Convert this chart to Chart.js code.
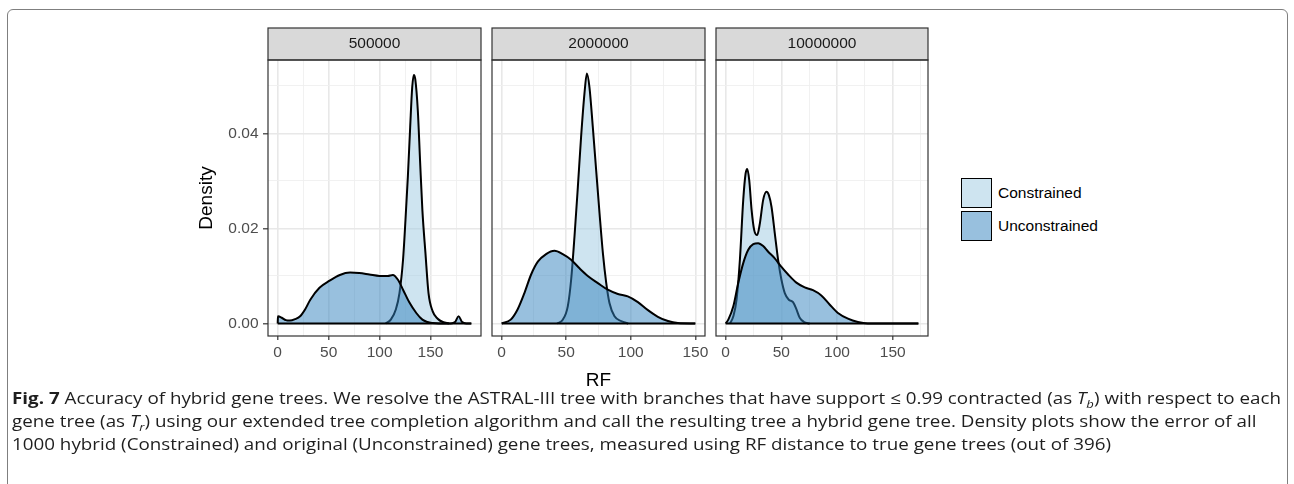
<!DOCTYPE html>
<html>
<head>
<meta charset="utf-8">
<script src="https://cdn.jsdelivr.net/npm/chart.js@4.4.1/dist/chart.umd.min.js"></script>
<style>
  html, body { margin: 0; padding: 0; background: #fff; }
  body { width: 1294px; height: 484px; position: relative; overflow: hidden; font-family: 'Liberation Sans', Arial, sans-serif; }
  .frame { position: absolute; left: 7px; top: 9px; width: 1279px; height: 520px; border: 1.5px solid #7f7f7f; border-radius: 6px; }
  canvas { position: absolute; top: 20px; }
  .key { position: absolute; left: 961px; width: 31px; height: 30px; box-sizing: border-box; border: 1.5px solid #000; }
  .key-label { position: absolute; left: 998px; height: 20px; line-height: 20px; font-size: 15.5px; color: #000; white-space: nowrap; }
  .caption { position: absolute; left: 12px; top: 386px; font-family: 'Open Sans', 'Noto Sans', sans-serif; font-size: 16.5px; line-height: 23px; color: #1e1e1e; transform-origin: 0 0; white-space: nowrap; }
  .caption sub { font-size: 11.5px; line-height: 0; }
</style>
</head>
<body>
<div class="frame"></div>
<canvas id="p0" width="305" height="372" style="left:190px"></canvas>
<canvas id="p1" width="239" height="372" style="left:480px"></canvas>
<canvas id="p2" width="238" height="372" style="left:704px"></canvas>

<div class="key" style="top:178px;background:rgba(158,202,225,0.5)"></div>
<div class="key" style="top:211px;background:rgba(49,130,189,0.5)"></div>
<div class="key-label" style="top:183px">Constrained</div>
<div class="key-label" style="top:216px">Unconstrained</div>

<div class="caption" id="caption">
  <div><b>Fig. 7</b> Accuracy of hybrid gene trees. We resolve the ASTRAL-III tree with branches that have support ≤ 0.99 contracted (as <i>T</i><sub><i>b</i></sub>) with respect to each</div>
  <div>gene tree (as <i>T</i><sub><i>r</i></sub>) using our extended tree completion algorithm and call the resulting tree a hybrid gene tree. Density plots show the error of all</div>
  <div>1000 hybrid (Constrained) and original (Unconstrained) gene trees, measured using RF distance to true gene trees (out of 396)</div>
</div>

<script>
// facets and axis breaks
const facetLabels = ['500000', '2000000', '10000000'];
const rfMax = [190, 150, 173];
const densityMax = 0.0528;
const xMajorBreaks = [0, 50, 100, 150];
const xMinorBreaks = [25, 75, 125, 175];
const yMajorBreaks = [0, 0.02, 0.04];
const yMinorBreaks = [0.01, 0.03, 0.05];

// 500000
const rfCon500k = [106, 111, 116, 119.5, 123, 125.4, 127.7, 130, 132, 133.6, 135, 137.5, 139.7, 142, 145, 148, 152, 157, 162, 168];
const denCon500k = [0, 0.0008, 0.003, 0.0064, 0.0134, 0.0218, 0.0308, 0.0413, 0.0497, 0.0523, 0.0514, 0.0448, 0.0343, 0.0238, 0.0148, 0.0064, 0.0026, 0.001, 0.0003, 0];
const rfUnc500k = [0, 0.3, 4, 8, 12, 17, 22, 27, 32, 41, 51, 61, 71, 80, 90, 100, 108, 113, 118, 123, 129, 136, 142, 147, 152, 158, 170, 174, 177.5, 181, 185, 190];
const denUnc500k = [0, 0.0015, 0.0012, 0.0007, 0.0006, 0.0009, 0.0015, 0.003, 0.005, 0.0075, 0.009, 0.0102, 0.0107, 0.0106, 0.0103, 0.01, 0.01, 0.0102, 0.0092, 0.0071, 0.0045, 0.0022, 0.0008, 0.0003, 0.0001, 0, 0, 0.0003, 0.0015, 0.0003, 0, 0];

// 2000000
const rfCon2m = [43, 47.3, 51.2, 53.8, 56.4, 59, 61.5, 64.1, 66, 68, 70.6, 73.2, 75.8, 78.4, 81, 83.5, 87.4, 92.6, 98];
const denCon2m = [0, 0.0008, 0.0036, 0.0092, 0.0183, 0.0287, 0.0392, 0.0483, 0.0526, 0.0497, 0.0413, 0.0322, 0.0232, 0.0148, 0.0085, 0.0043, 0.0015, 0.0005, 0];
const rfUnc2m = [0, 7, 12.4, 17.6, 22.8, 28, 34.4, 40.9, 47.3, 53.8, 60.3, 66.7, 74.5, 82.2, 90, 97.7, 105.5, 113.3, 121, 128.8, 136.5, 150];
const denUnc2m = [0, 0.0008, 0.003, 0.0064, 0.0103, 0.013, 0.0146, 0.0153, 0.0146, 0.0134, 0.0116, 0.01, 0.0085, 0.0071, 0.0062, 0.0057, 0.0045, 0.0028, 0.0014, 0.0005, 0.0001, 0];

// 10000000
const rfCon10m = [3.9, 6.9, 9.8, 12.8, 15.8, 17.9, 19.4, 21.2, 23.3, 25.6, 28.3, 30.7, 33.7, 36.7, 38.8, 41.2, 44.1, 47.1, 50.1, 53.1, 56.7, 60.5, 63.5, 66.5, 70.4, 75.5];
const denCon10m = [0, 0.0015, 0.005, 0.0134, 0.026, 0.0315, 0.0325, 0.0301, 0.0239, 0.0197, 0.0186, 0.021, 0.026, 0.0277, 0.027, 0.0245, 0.019, 0.0134, 0.0092, 0.0064, 0.005, 0.0045, 0.003, 0.0012, 0.0003, 0];
const rfUnc10m = [0, 2.4, 6.9, 11.3, 15.8, 20.3, 24.8, 29.2, 33.7, 38.2, 44.1, 50.1, 56.1, 63.5, 71, 78.4, 85.9, 93.3, 100.8, 109.8, 118.7, 127.6, 173];
const denUnc10m = [0, 0.0008, 0.0036, 0.0085, 0.0127, 0.0155, 0.0167, 0.0169, 0.0163, 0.0151, 0.0137, 0.0119, 0.0103, 0.0086, 0.0076, 0.007, 0.0059, 0.004, 0.0022, 0.001, 0.0003, 0, 0];

const panels = [
    { con: [rfCon500k, denCon500k], unc: [rfUnc500k, denUnc500k] },
    { con: [rfCon2m, denCon2m], unc: [rfUnc2m, denUnc2m] },
    { con: [rfCon10m, denCon10m], unc: [rfUnc10m, denUnc10m] },
];

// canvas placement: padding left, y-axis width
const boxes = [
    { padLeft: 0, yWidth: 78 },
    { padLeft: 12, yWidth: 0 },
    { padLeft: 12, yWidth: 0 },
];

const FONT = "'Liberation Sans', Arial, sans-serif";
const conFill = 'rgba(158, 202, 225, 0.5)';
const uncFill = 'rgba(49, 130, 189, 0.5)';

function toPoints(xs, ys) {
    return xs.map((x, i) => ({ x: x, y: ys[i] }));
}

const panelDecor = {
    id: 'panelDecor',
    afterDraw(chart, args, opts) {
        const { ctx, chartArea: a } = chart;
        const w = a.right - a.left;
        ctx.save();
        ctx.fillStyle = '#d9d9d9';
        ctx.fillRect(a.left, a.top - 32, w, 32);
        ctx.strokeStyle = '#333333';
        ctx.lineWidth = 1.2;
        ctx.strokeRect(a.left, a.top - 32, w, 32);
        ctx.strokeRect(a.left, a.top, w, a.bottom - a.top);
        ctx.fillStyle = '#1a1a1a';
        ctx.font = '15.5px ' + FONT;
        ctx.textAlign = 'center';
        ctx.textBaseline = 'middle';
        ctx.fillText(opts.label, (a.left + a.right) / 2, a.top - 16);
        ctx.restore();
    }
};

function lineSet(label, pts, fill, order) {
    return {
        label: label,
        data: pts,
        order: order,
        fill: fill ? 'origin' : false,
        backgroundColor: fill || 'rgba(0,0,0,0)',
        borderColor: '#000',
        borderWidth: 2,
        borderJoinStyle: 'round',
        pointRadius: 0,
        cubicInterpolationMode: 'monotone',
    };
}

panels.forEach((p, i) => {
    const max = rfMax[i];
    const first = i === 0;
    new Chart(document.getElementById('p' + i), {
        type: 'line',
        data: {
            datasets: [
                lineSet('Constrained', toPoints(p.con[0], p.con[1]), conFill, 3),
                lineSet('Unconstrained', toPoints(p.unc[0], p.unc[1]), uncFill, 2),
                lineSet('baseline', [{ x: 0, y: 0 }, { x: max, y: 0 }], null, 1),
            ],
        },
        options: {
            responsive: false,
            animation: false,
            events: [],
            layout: { padding: { top: 40, right: 14, bottom: 0, left: boxes[i].padLeft } },
            plugins: {
                legend: { display: false },
                tooltip: { enabled: false },
                panelDecor: { label: facetLabels[i] },
            },
            scales: {
                x: {
                    type: 'linear',
                    min: -0.05 * max,
                    max: 1.05 * max,
                    afterBuildTicks: ax => {
                        ax.ticks = xMajorBreaks.concat(xMinorBreaks)
                            .filter(v => v >= ax.min && v <= ax.max)
                            .sort((a, b) => a - b)
                            .map(v => ({ value: v }));
                    },
                    afterFit: s => { s.height = 56; },
                    border: { display: false },
                    grid: {
                        color: c => xMajorBreaks.includes(c.tick.value) ? '#e8e8e8' : '#efefef',
                        lineWidth: c => xMajorBreaks.includes(c.tick.value) ? 1.6 : 0.9,
                        tickLength: 4,
                        tickWidth: 1.2,
                        tickColor: c => xMajorBreaks.includes(c.tick.value) ? '#333333' : 'rgba(0,0,0,0)',
                    },
                    ticks: {
                        autoSkip: false,
                        maxRotation: 0,
                        padding: 3.5,
                        color: '#4d4d4d',
                        font: { family: FONT, size: 15.5 },
                        callback: v => xMajorBreaks.includes(v) ? String(v) : '',
                    },
                    title: {
                        display: i === 1,
                        text: 'RF',
                        color: '#000',
                        font: { family: FONT, size: 19 },
                        padding: { top: 0, bottom: 0 },
                    },
                },
                y: {
                    min: -0.05 * densityMax,
                    max: 1.05 * densityMax,
                    afterBuildTicks: ax => {
                        ax.ticks = yMajorBreaks.concat(yMinorBreaks)
                            .sort((a, b) => a - b)
                            .map(v => ({ value: v }));
                    },
                    afterFit: s => { s.width = boxes[i].yWidth; },
                    border: { display: false },
                    grid: {
                        color: c => yMajorBreaks.includes(c.tick.value) ? '#e8e8e8' : '#efefef',
                        lineWidth: c => yMajorBreaks.includes(c.tick.value) ? 1.6 : 0.9,
                        drawTicks: first,
                        tickLength: 5,
                        tickWidth: 1.2,
                        tickColor: c => yMajorBreaks.includes(c.tick.value) ? '#333333' : 'rgba(0,0,0,0)',
                    },
                    ticks: {
                        display: first,
                        autoSkip: false,
                        padding: 4.5,
                        color: '#4d4d4d',
                        font: { family: FONT, size: 15.5 },
                        callback: v => yMajorBreaks.includes(v) ? v.toFixed(2) : '',
                    },
                    title: {
                        display: first,
                        text: 'Density',
                        color: '#000',
                        font: { family: FONT, size: 19 },
                        padding: { top: 5, bottom: 0 },
                    },
                },
            },
        },
        plugins: [panelDecor],
    });
});

// squeeze the caption lines to the width of the figure box
const cap = document.getElementById('caption');
const k = 1269 / cap.firstElementChild.scrollWidth;
cap.style.transform = 'scaleX(' + k + ')';
</script>
</body>
</html>
